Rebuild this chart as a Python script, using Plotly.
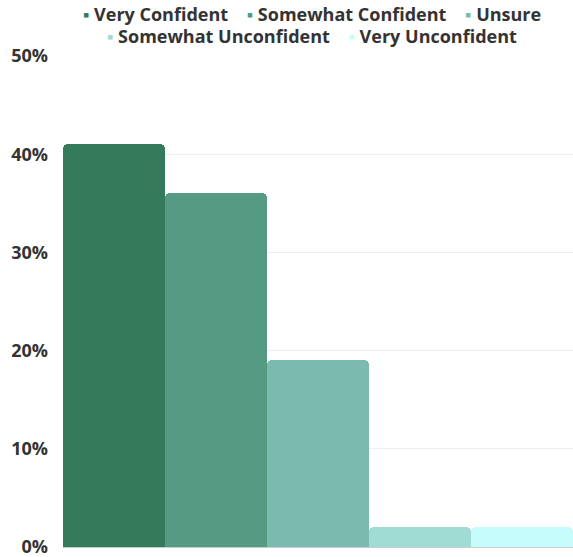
import plotly.graph_objects as go

# Survey responses: share of respondents per confidence level
levels = ["Very Confident", "Somewhat Confident", "Unsure",
          "Somewhat Unconfident", "Very Unconfident"]
shares = [41, 36, 19, 2, 2]
colors = ["#347B5C", "#559B83", "#7BBBAF", "#A0DCD4", "#C6FCFB"]
category = ["Confidence"]

# legend rows (indices into levels)
legend_rows = [[0, 1, 2], [3, 4]]
legend_y = [1.0855, 1.0407]

fig = go.Figure()
for name, val, col in zip(levels, shares, colors):
    fig.add_trace(go.Bar(
        x=category, y=[val], name=name, showlegend=False,
        marker=dict(color=col, line=dict(width=0)),
        hovertemplate="%{y}%<extra>" + name + "</extra>",
    ))

# compact legend drawn as text with small coloured squares
NB = "\u00a0"
for row, yy in zip(legend_rows, legend_y):
    parts = []
    for i in row:
        parts.append(f"<span style='color:{colors[i]}'>\u25aa</span>{NB}{levels[i]}")
    fig.add_annotation(
        text=(NB * 4).join(parts),
        x=0.489, xref="paper", xanchor="center",
        y=yy, yref="paper", yanchor="middle",
        showarrow=False,
        font=dict(family="Open Sans", size=18, color="#333333", weight="bold"),
    )

fig.update_layout(
    width=573, height=557,
    margin=dict(l=63, r=0, t=56, b=10, autoexpand=False),
    barmode="group", bargap=0, bargroupgap=0,
    barcornerradius=5,
    plot_bgcolor="white", paper_bgcolor="white",
    font=dict(family="Open Sans", size=15, color="#333333"),
    showlegend=False,
)
fig.update_xaxes(showticklabels=False, showgrid=False, zeroline=False,
                 showline=False)
fig.update_yaxes(range=[0, 50], dtick=10, ticksuffix="%",
                 tickfont=dict(size=18, color="#333333", weight="bold"),
                 showgrid=True, gridcolor="#EEEEEE", gridwidth=1,
                 zeroline=True, zerolinecolor="#CCCCCC", zerolinewidth=2,
                 ticks="", ticklabelstandoff=14, ticklabeloverflow="allow",
                 fixedrange=True)

fig.write_html("out.html")
